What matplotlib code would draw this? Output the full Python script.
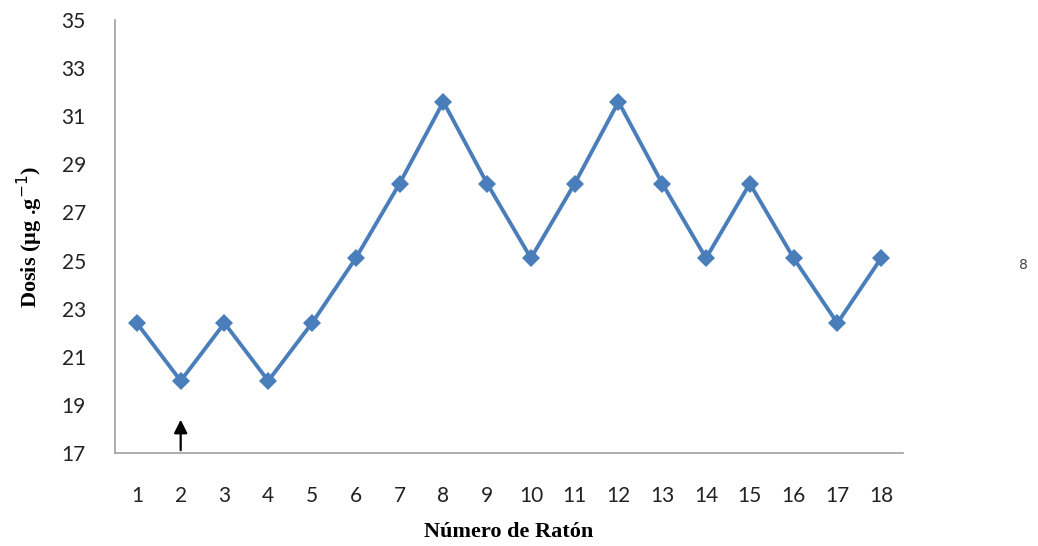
import matplotlib.pyplot as plt
import numpy as np

# Número de ratón y dosis (µg/g)
ratones = np.arange(1, 19)
dosis = [22.4, 20.0, 22.4, 20.0, 22.4, 25.1, 28.2, 31.6, 28.2,
         25.1, 28.2, 31.6, 28.2, 25.1, 28.2, 25.1, 22.4, 25.1]
y_ticks = np.arange(17, 36, 2)

fig = plt.figure(figsize=(10.38, 5.46), dpi=100)
ax = fig.add_axes([0.1108, 0.1703, 0.7592, 0.7931])

ax.plot(ratones, dosis, color='#4a7ebb', linewidth=2.8,
        marker='D', markersize=9.5, markeredgewidth=0)

ax.set_xlim(0.5, 18.5)
ax.set_ylim(17, 35)
ax.set_xticks(ratones)
ax.set_yticks(y_ticks)
ax.tick_params(length=0, labelsize=15, labelcolor='#222222')
ax.tick_params(axis='x', pad=24)
ax.tick_params(axis='y', pad=21)
for lab in ax.get_xticklabels() + ax.get_yticklabels():
    lab.set_family('Lato')

for s in ['top', 'right']:
    ax.spines[s].set_visible(False)
for s in ['left', 'bottom']:
    ax.spines[s].set_color('#a0a0a0')
    ax.spines[s].set_linewidth(1.2)

ax.set_ylabel('Dosis (µg .g$^{-1}$)', family='Liberation Serif',
              fontweight='bold', fontsize=16, labelpad=12)
ax.set_xlabel('Número de Ratón', family='Liberation Serif',
              fontweight='bold', fontsize=16, labelpad=11)

# flecha en el ratón 2
ax.annotate('', xy=(2, 18.5), xytext=(2, 17),
            arrowprops=dict(arrowstyle='-|>', color='black', lw=1.6,
                            mutation_scale=20))

fig.text(0.986, 0.515, '8', fontsize=10, color='#444444', ha='center',
         va='center')

fig.savefig('out.png', dpi=100)
